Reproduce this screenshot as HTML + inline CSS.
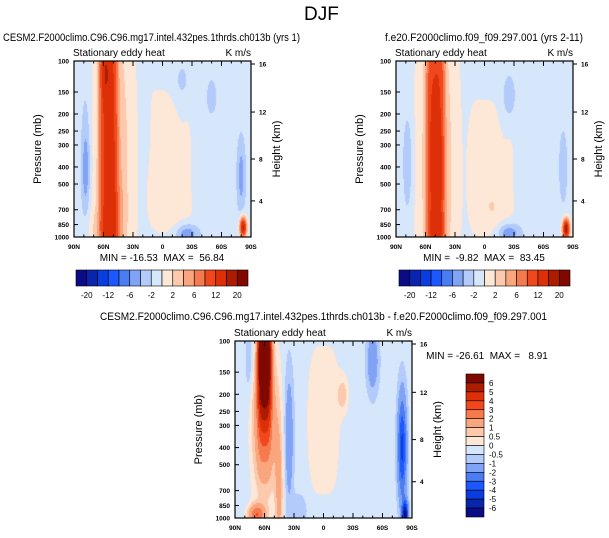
<!DOCTYPE html>
<html><head><meta charset="utf-8">
<style>
body{margin:0;background:#fff;width:609px;height:538px;position:relative;overflow:hidden;font-family:"Liberation Sans",sans-serif;color:#000}
canvas{position:absolute}
svg{position:absolute;left:0;top:0}
</style></head><body>
<canvas id="c1" width="177" height="176" style="left:74px;top:61px"></canvas>
<canvas id="c2" width="177" height="176" style="left:396px;top:61px"></canvas>
<canvas id="c3" width="177" height="177" style="left:235px;top:341px"></canvas>
<svg id="ov" width="609" height="538"></svg>
<script>
// ---- data ----
const presTicks=[100,150,200,250,300,400,500,700,850,1000];
const latTickLabels=["90N","60N","30N","0","30S","60S","90S"];
const heightTickLabels=["4","8","12","16"];
const levelsAbs=[-20,-16,-12,-9,-6,-4,-2,0,2,4,6,9,12,16,20];
const levelsAbsLabels=["-20","-12","-6","-2","2","6","12","20"];
const levelsDiff=[-6,-5,-4,-3,-2,-1,-0.5,0,0.5,1,2,3,4,5,6];
const levelsDiffLabels=["6","5","4","3","2","1","0.5","0","-0.5","-1","-2","-3","-4","-5","-6"];
const palette=["#0b0b86","#0a25ad","#0a3de0","#1c58ff","#4a7cf2","#80a3f5","#b2cbfa","#d6e6fb","#fde7d6","#fcc9ad","#f9a57e","#f57a4e","#f0481c","#de3008","#ae1c00","#7f0800"];
// blobs: [lat, pressure, amplitude, sigmaLat, sigmaLog10P, latExponent]
const bg1=-1, bg2=-1, bg3=-0.3;
const blobs1=[[55,250,9.5,8,1.2,4],[48,800,2,8,0.2,4],[58,115,5,4,0.12],[50,400,5,14,0.8],[62,900,2,12,0.1],
 [78,420,-3.5,3,0.18],[78,300,-1.5,4,0.45],[0,350,2.2,14,0.3,4],[-25,350,1.2,7,0.35],[-10,700,1.5,12,0.08],
 [-25,960,-5,8,0.04],[-80,450,-4,3,0.15],[-82,880,18,2.5,0.04],[-20,130,-2,6,0.08],[-50,160,-2,4,0.08],[15,250,-1.2,2,0.15]];
const blobs2=[[50,300,9.5,8,1.2,4],[48,880,3,5,0.06],[45,420,2,3,0.12],[48,400,5,14,0.8],
 [78,380,-3,3.5,0.2],[-25,160,-3,5,0.1],[0,400,2.2,14,0.3,4],[-25,350,1.2,7,0.35],[-10,700,1.5,12,0.08],
 [-25,950,-5,8,0.04],[-80,400,-2.5,3,0.15],[-83,900,20,2.5,0.04]];
const blobs3=[[60,110,7,6,0.3,4],[60,200,2,8,0.3],[60,350,0.8,12,0.3,4],[45,700,1.5,3,0.3],[68,960,3,6,0.04],[35,350,-1.5,3,0.25],
 [0,280,0.8,14,0.3,4],[-20,200,1,4,0.08],[-80,400,-4,3,0.2],[-83,950,-6,2,0.05],[-50,130,-1.5,4,0.12],[75,130,-0.8,3,0.15],[25,900,-0.6,6,0.06]];

// ---- drawing ----
function field(bg,blobs,lat,p){let v=bg;const lp=Math.log10(p);
 for(const b of blobs){const dx=Math.abs((lat-b[0])/b[3]),dz=(lp-Math.log10(b[1]))/b[4];const e=b[5]||2;
  v+=b[2]*Math.exp(-0.5*(Math.pow(dx,e)+dz*dz));}return v;}
function colorFor(v,lv){let i=0;while(i<lv.length&&v>=lv[i])i++;return palette[i];}
function draw(id,bg,blobs,lv){const c=document.getElementById(id),ctx=c.getContext('2d');const W=c.width,H=c.height;
 for(let j=0;j<H;j++){const p=100*Math.pow(10,(j+0.5)/H);for(let i=0;i<W;i++){const lat=90-180*(i+0.5)/W;
  ctx.fillStyle=colorFor(field(bg,blobs,lat,p),lv);ctx.fillRect(i,j,1,1);}}}
draw('c1',bg1,blobs1,levelsAbs);draw('c2',bg2,blobs2,levelsAbs);draw('c3',bg3,blobs3,levelsDiff);

const NS='http://www.w3.org/2000/svg',ov=document.getElementById('ov');
function el(tag,a,parent){const e=document.createElementNS(NS,tag);for(const k in a)e.setAttribute(k,a[k]);(parent||ov).appendChild(e);return e;}
function txt(x,y,s,size,anchor,name,extra){const t=el('text',Object.assign({x:x,y:y,'font-size':size,'text-anchor':anchor||'start','font-family':'Liberation Sans, sans-serif',style:'white-space:pre'},extra||{}));t.textContent=s;
 
 return t;}
const hFrac=[0.795,0.557,0.290,0.017];
function axes(x0,y0,w,h,minmax,mmx,mmy){
 const g=el('g',{});
 
 
 el('rect',{x:x0,y:y0,width:w,height:h,fill:'none',stroke:'#000','stroke-width':1.2},g);
 for(const p of presTicks){const y=y0+h*Math.log10(p/100);
  el('line',{x1:x0,x2:x0+4,y1:y,y2:y,stroke:'#000'},g);
  txt(x0-5,y+2.5,String(p),6.5,'end','pressure-tick-label',{'font-weight':'bold'});}
 for(let k=0;k<=18;k++){const x=x0+w*k/18,L=k%3==0?5:2.5;
  el('line',{x1:x,x2:x,y1:y0+h,y2:y0+h-L,stroke:'#000'},g);el('line',{x1:x,x2:x,y1:y0,y2:y0+L,stroke:'#000'},g);}
 latTickLabels.forEach((s,k)=>txt(x0+w*k/6,y0+h+12,s,6.5,'middle','latitude-tick-label',{'font-weight':'bold'}));
 heightTickLabels.forEach((s,k)=>{const y=y0+h*hFrac[k];el('line',{x1:x0+w,x2:x0+w+4,y1:y,y2:y,stroke:'#000'},g);
  txt(x0+w+8,y+2.5,s,6.5,'start','height-tick-label',{'font-weight':'bold'});});
 txt(x0-1,y0-5,'Stationary eddy heat',10,'start','subtitle');
 txt(x0+w,y0-5,'K m/s',10,'end','units-label');
 txt(0,0,'Pressure (mb)',11,'middle','y-axis-title',{transform:`translate(${x0-33},${y0+h/2}) rotate(-90)`});
 txt(0,0,'Height (km)',11,'middle','y2-axis-title',{transform:`translate(${x0+w+29},${y0+h/2}) rotate(-90)`});
 txt(mmx,mmy,minmax,10,'middle','min-max-label');
}
axes(74,61,177,176,'MIN = -16.53  MAX =  56.84',162,261);
axes(396,61,177,176,'MIN =  -9.82  MAX =  83.45',484,261);
axes(235,341,177,177,'MIN = -26.61  MAX =   8.91',487,359);
txt(304,20,'DJF',19,'start','main-title');
txt(3,41,'CESM2.F2000climo.C96.C96.mg17.intel.432pes.1thrds.ch013b (yrs 1)',11,'start','panel-1-title',{textLength:297,lengthAdjust:'spacingAndGlyphs'});
txt(385,41,'f.e20.F2000climo.f09_f09.297.001 (yrs 2-11)',11,'start','panel-2-title',{textLength:198,lengthAdjust:'spacingAndGlyphs'});
txt(100,320,'CESM2.F2000climo.C96.C96.mg17.intel.432pes.1thrds.ch013b - f.e20.F2000climo.f09_f09.297.001',11,'start','panel-3-title',{textLength:447,lengthAdjust:'spacingAndGlyphs'});
function hbar(x0,y0,w,h){const bw=w/16;
 for(let i=0;i<16;i++){const r=el('rect',{x:x0+i*bw,y:y0,width:bw,height:h,fill:palette[i],stroke:'#000','stroke-width':0.6});
  
  }
 levelsAbsLabels.forEach((s,k)=>txt(x0+bw*(1+2*k),y0+h+12,s,8,'middle','colorbar-label'));}
hbar(76,270,172,16);hbar(399,270,171,16);
(function(){const x0=466,y0=374,w=18,h=143,bh=h/16;
 for(let i=0;i<16;i++){const r=el('rect',{x:x0,y:y0+i*bh,width:w,height:bh,fill:palette[15-i],stroke:'#000','stroke-width':0.6});
  
  }
 levelsDiffLabels.forEach((s,k)=>txt(x0+w+5,y0+bh*(k+1)+3,s,8,'start','colorbar-label'));})();
</script>
</body></html>
